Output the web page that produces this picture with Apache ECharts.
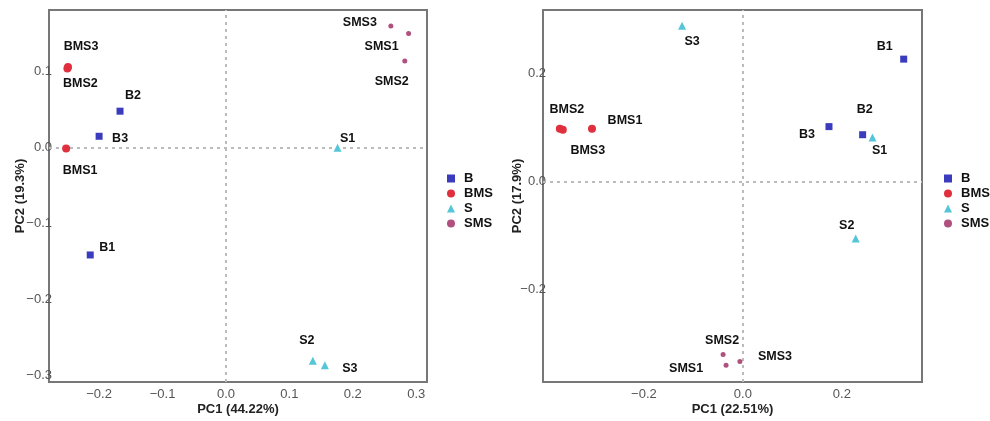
<!DOCTYPE html>
<html><head><meta charset="utf-8">
<script src="https://cdn.jsdelivr.net/npm/echarts@6/dist/echarts.min.js"></script>
<style>html,body{margin:0;padding:0;background:#fff}#c{width:990px;height:421px}</style>
</head><body><div id="c"></div>
<script>
// ---- data ----
const groups = ['B', 'BMS', 'S', 'SMS'];
// Left panel (PC1 44.22%, PC2 19.3%)
const leftB_names = ['B1', 'B2', 'B3'];
const leftB = [[-0.214, -0.141], [-0.167, 0.048], [-0.200, 0.015]];
const leftBMS_names = ['BMS1', 'BMS2', 'BMS3'];
const leftBMS = [[-0.252, -0.001], [-0.250, 0.104], [-0.249, 0.106]];
const leftS_names = ['S1', 'S2', 'S3'];
const leftS = [[0.176, 0.000], [0.137, -0.280], [0.156, -0.286]];
const leftSMS_names = ['SMS1', 'SMS2', 'SMS3'];
const leftSMS = [[0.288, 0.150], [0.282, 0.114], [0.260, 0.160]];
const leftXTicks = [-0.2, -0.1, 0.0, 0.1, 0.2, 0.3];
const leftYTicks = [-0.3, -0.2, -0.1, 0.0, 0.1];
const leftXName = 'PC1 (44.22%)';
const leftYName = 'PC2 (19.3%)';
// Right panel (PC1 22.51%, PC2 17.9%)
const rightB_names = ['B1', 'B2', 'B3'];
const rightB = [[0.325, 0.227], [0.242, 0.087], [0.174, 0.102]];
const rightBMS_names = ['BMS1', 'BMS2', 'BMS3'];
const rightBMS = [[-0.305, 0.098], [-0.370, 0.098], [-0.364, 0.096]];
const rightS_names = ['S1', 'S2', 'S3'];
const rightS = [[0.262, 0.082], [0.228, -0.105], [-0.123, 0.289]];
const rightSMS_names = ['SMS1', 'SMS2', 'SMS3'];
const rightSMS = [[-0.034, -0.340], [-0.040, -0.320], [-0.006, -0.333]];
const rightXTicks = [-0.2, 0.0, 0.2];
const rightYTicks = [-0.2, 0.0, 0.2];
const rightXName = 'PC1 (22.51%)';
const rightYName = 'PC2 (17.9%)';

// ---- styling / placement ----
const FONT = '"Liberation Sans", Arial, sans-serif';
const colors = { B: '#3b3bbd', BMS: '#e0303e', S: '#55c6d8', SMS: '#b0507e' };
const symbols = { B: 'rect', BMS: 'circle', S: 'triangle', SMS: 'circle' };
const sizes = { B: 7, BMS: 8, S: 8, SMS: 5 };
const labelOffsetsLeft = {
  B1: [17, -7], B2: [13, -16], B3: [21, 2],
  BMS1: [14, 22], BMS2: [13, 15], BMS3: [13, -21],
  S1: [10, -9], S2: [-6, -20], S3: [25, 3],
  SMS1: [-27, 13], SMS2: [-13, 21], SMS3: [-31, -3]
};
const labelOffsetsRight = {
  B1: [-19, -13], B2: [2, -25], B3: [-22, 8],
  BMS1: [33, -8], BMS2: [7, -19], BMS3: [25, 21],
  S1: [7, 13], S2: [-9, -13], S3: [10, 16],
  SMS1: [-40, 3], SMS2: [-1, -14], SMS3: [35, -5]
};
const fmt = v => (v < 0 ? '\u2212' : '') + Math.abs(v).toFixed(1);

function mkSeries(grp, pts, names, idx, offsets, withLines) {
  const s = {
    name: grp, type: 'scatter', xAxisIndex: idx, yAxisIndex: idx,
    symbol: symbols[grp], symbolSize: sizes[grp],
    itemStyle: { color: colors[grp], opacity: 1 },
    data: pts.map((p, i) => ({
      name: names[i], value: p,
      label: { show: true, position: 'inside', offset: offsets[names[i]], formatter: names[i] }
    })),
    label: { color: '#111', fontFamily: FONT, fontWeight: 'bold', fontSize: 12.5 },
    emphasis: { disabled: true }, z: 5
  };
  if (withLines) {
    s.markLine = {
      silent: true, symbol: 'none', label: { show: false },
      lineStyle: { color: '#bbb', type: [3, 4], width: 2 },
      data: [{ xAxis: 0 }, { yAxis: 0 }], z: 1
    };
  }
  return s;
}

function xAxis(idx, min, max, ticks, name) {
  return {
    type: 'value', gridIndex: idx, min, max, name, nameLocation: 'middle', nameGap: 21,
    nameMoveOverlap: false,
    nameTextStyle: { color: '#222', fontFamily: FONT, fontWeight: 'bold', fontSize: 13 },
    splitLine: { show: false }, axisLine: { show: false },
    axisTick: { show: false, customValues: ticks },
    axisLabel: { customValues: ticks, formatter: fmt, margin: 6, color: '#555', fontFamily: FONT, fontSize: 13 }
  };
}
function yAxis(idx, min, max, ticks, name, gap) {
  return {
    type: 'value', gridIndex: idx, min, max, name, nameLocation: 'middle', nameGap: gap, nameRotate: 90,
    nameMoveOverlap: false,
    nameTextStyle: { color: '#222', fontFamily: FONT, fontWeight: 'bold', fontSize: 13 },
    splitLine: { show: false }, axisLine: { show: false },
    axisTick: { show: false, customValues: ticks },
    axisLabel: { customValues: ticks, formatter: fmt, margin: -3, color: '#555', fontFamily: FONT, fontSize: 13 }
  };
}

const legendCommon = {
  orient: 'vertical', itemWidth: 8, itemHeight: 8, itemGap: 2,
  textStyle: { color: '#111', fontFamily: FONT, fontWeight: 'bold', fontSize: 13, padding: [0, 0, 0, 4] },
  selectedMode: false,
  data: groups
};

const chart = echarts.init(document.getElementById('c'), null, { renderer: 'canvas' });
chart.setOption({
  animation: false,
  backgroundColor: '#fff',
  grid: [
    { left: 49, right: 563, top: 10, bottom: 32, show: true, borderColor: '#777', borderWidth: 2, backgroundColor: 'transparent' },
    { left: 543, right: 68, top: 10, bottom: 32, show: true, borderColor: '#777', borderWidth: 2, backgroundColor: 'transparent' }
  ],
  xAxis: [
    xAxis(0, -0.279, 0.317, leftXTicks, leftXName),
    xAxis(1, -0.404, 0.362, rightXTicks, rightXName)
  ],
  yAxis: [
    yAxis(0, -0.308, 0.181, leftYTicks, leftYName, 22),
    yAxis(1, -0.371, 0.318, rightYTicks, rightYName, 19)
  ],
  legend: [
    Object.assign({ left: 442, top: 167 }, legendCommon),
    Object.assign({ left: 939, top: 167 }, legendCommon)
  ],
  series: [
    mkSeries('B', leftB, leftB_names, 0, labelOffsetsLeft, true),
    mkSeries('BMS', leftBMS, leftBMS_names, 0, labelOffsetsLeft, false),
    mkSeries('S', leftS, leftS_names, 0, labelOffsetsLeft, false),
    mkSeries('SMS', leftSMS, leftSMS_names, 0, labelOffsetsLeft, false),
    mkSeries('B', rightB, rightB_names, 1, labelOffsetsRight, true),
    mkSeries('BMS', rightBMS, rightBMS_names, 1, labelOffsetsRight, false),
    mkSeries('S', rightS, rightS_names, 1, labelOffsetsRight, false),
    mkSeries('SMS', rightSMS, rightSMS_names, 1, labelOffsetsRight, false)
  ]
});
</script></body></html>
